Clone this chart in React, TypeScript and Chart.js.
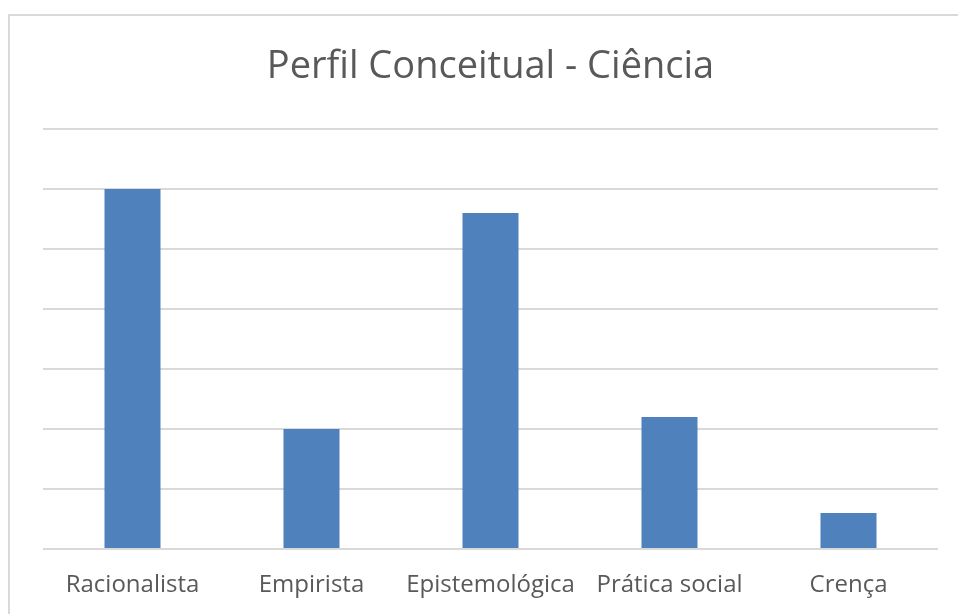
import React, { useEffect, useRef } from "react";
import { Chart, registerables } from "chart.js";

Chart.register(...registerables);

const categories = ["Racionalista", "Empirista", "Epistemológica", "Prática social", "Crença"];
const values = [6, 2, 5.6, 2.2, 0.6];
const titleText = "Perfil Conceitual - Ciência";
const yMin = 0;
const yMax = 7;
const yStep = 1;

export default function App() {
  const ref = useRef<HTMLCanvasElement | null>(null);
  useEffect(() => {
    if (!ref.current) return;
    const chart = new Chart(ref.current, {
      type: "bar",
      data: {
        labels: categories,
        datasets: [
          {
            data: values,
            backgroundColor: "#4f81bd",
            borderWidth: 0,
            barPercentage: 0.5,
            categoryPercentage: 0.626,
          },
        ],
      },
      options: {
        responsive: false,
        animation: false,
        layout: { padding: { left: 0, right: 20, top: 0, bottom: 0 } },
        plugins: {
          legend: { display: false },
          tooltip: { enabled: false },
          title: {
            display: true,
            fullSize: false,
            text: titleText,
            color: "#595959",
            font: { family: "Open Sans", size: 38, weight: "normal", lineHeight: 1.2 },
            padding: { top: 44, bottom: 39.4 },
          },
        },
        scales: {
          x: {
            grid: { display: false, drawTicks: false },
            border: { display: false },
            ticks: {
              color: "#595959",
              font: { family: "Open Sans", size: 24 },
              padding: 22,
              maxRotation: 0,
              autoSkip: false,
            },
            afterFit: (s: any) => {
              s.height = 65;
            },
          },
          y: {
            min: yMin,
            max: yMax,
            ticks: { stepSize: yStep, display: false },
            grid: { color: "#d9d9d9", lineWidth: 2, drawTicks: false },
            border: { display: false },
            afterFit: (s: any) => {
              s.width = 43;
            },
          },
        },
      },
    });
    return () => chart.destroy();
  }, []);
  return (
    <div style={{ position: "fixed", left: 0, top: 0, width: 958, height: 614, background: "#fff", overflow: "hidden" }}>
      <div
        style={{
          position: "absolute",
          left: 8,
          top: 14,
          width: 1000,
          height: 700,
          border: "2px solid #d9d9d9",
          boxSizing: "border-box",
        }}
      />
      <canvas ref={ref} width={958} height={614} style={{ position: "absolute", left: 0, top: 0 }} />
    </div>
  );
}
